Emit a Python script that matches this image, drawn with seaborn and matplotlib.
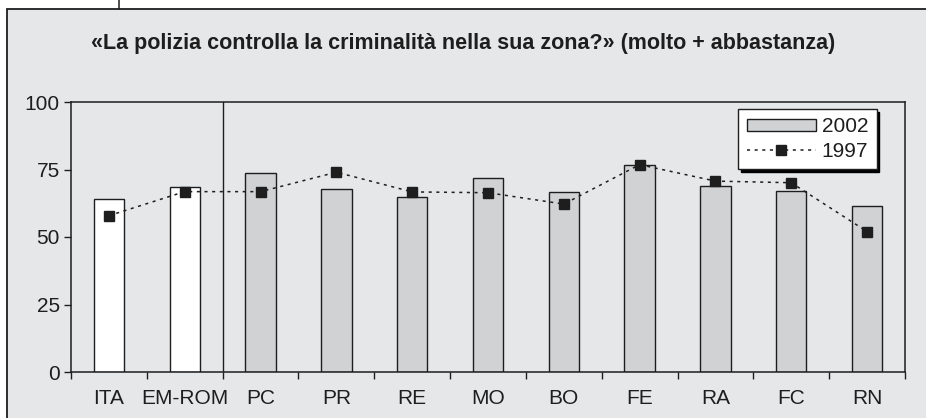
import numpy as np
import pandas as pd
import matplotlib
matplotlib.use("Agg")
import matplotlib.pyplot as plt
from matplotlib.patches import Patch, Rectangle
from matplotlib.lines import Line2D
import seaborn as sns

areas = ["ITA", "EM-ROM", "PC", "PR", "RE", "MO", "BO", "FE", "RA", "FC", "RN"]
v2002 = [64, 68.5, 73.8, 67.9, 64.7, 72, 66.6, 76.6, 69, 67, 61.5]
v1997 = [57.9, 66.8, 66.8, 74, 66.7, 66.4, 62.2, 76.8, 70.7, 70.1, 52]
yticks = [0, 25, 50, 75, 100]
title = "«La polizia controlla la criminalità nella sua zona?» (molto + abbastanza)"

BG = "#e6e7e9"
BAR = "#d1d2d4"
INK = "#1e1e1e"

sns.set_style("white")
plt.rcParams["font.family"] = ["Liberation Sans", "DejaVu Sans"]

df = pd.DataFrame({"area": areas, "v2002": v2002, "v1997": v1997})
bar_colors = {a: ("#ffffff" if a in ("ITA", "EM-ROM") else BAR) for a in areas}

fig = plt.figure(figsize=(9.26, 4.18), dpi=100, facecolor="white")
# outer gray frame of the figure panel
fig.patches.append(Rectangle((7 / 926, -0.05), 1.0, 1 - 9 / 418 + 0.05,
                             transform=fig.transFigure, facecolor=BG,
                             edgecolor=INK, linewidth=1.3, zorder=-10))
fig.lines.append(Line2D([119 / 926, 119 / 926], [1 - 9 / 418, 1.0],
                        transform=fig.transFigure, color=INK, linewidth=1.1))

ax = fig.add_axes([71 / 926, 46 / 418, 834 / 926, 270 / 418])
ax.set_facecolor(BG)

sns.barplot(data=df, x="area", y="v2002", hue="area", palette=bar_colors,
            width=0.4, edgecolor=INK, linewidth=1.0, legend=False, ax=ax,
            zorder=2)
ax.plot(np.arange(len(areas)), df["v1997"], color=INK, linestyle=(0, (2, 3)),
        linewidth=1.1, marker="s", markersize=7.5, markerfacecolor=INK,
        markeredgecolor=INK, zorder=3)

ax.axvline(1.5, color=INK, linewidth=1.0, zorder=1)

ax.set_xlim(-0.5, len(areas) - 0.5)
ax.set_ylim(0, 100)
ax.set_yticks(yticks)
ax.set_xlabel("")
ax.set_ylabel("")
ax.set_xticks(np.arange(-0.5, len(areas), 1.0), minor=True)
ax.tick_params(axis="x", which="major", length=0, pad=12, labelsize=15,
               labelcolor=INK)
ax.tick_params(axis="x", which="minor", length=5, width=1, color=INK,
               direction="out", bottom=True)
ax.tick_params(axis="y", length=5, width=1, color=INK, direction="out",
               pad=3, labelsize=15, labelcolor=INK, left=True)
for s in ax.spines.values():
    s.set_visible(True)
    s.set_color(INK)
    s.set_linewidth(1.1)

handles = [Patch(facecolor=BAR, edgecolor=INK, linewidth=1.0, label="2002"),
           Line2D([], [], color=INK, linestyle=(0, (2, 3)), linewidth=1.1,
                  marker="s", markersize=7.5, label="1997")]
leg = ax.legend(handles=handles, loc="upper right",
                bbox_to_anchor=(0.966, 0.974), fontsize=15, frameon=True,
                fancybox=False, shadow={"color": "black", "alpha": 1},
                handlelength=3.3, handleheight=0.5, numpoints=1,
                borderpad=0.4, labelspacing=0.25, handletextpad=0.3,
                borderaxespad=0)
leg.get_frame().set_edgecolor(INK)
leg.get_frame().set_linewidth(1.0)
leg.get_frame().set_facecolor("white")
for t in leg.get_texts():
    t.set_color(INK)

fig.text(0.5, 1 - 43 / 418, title, ha="center", va="center",
         fontsize=15.5, fontweight="bold", color=INK)

fig.savefig("out.png", dpi=100, facecolor="white")
